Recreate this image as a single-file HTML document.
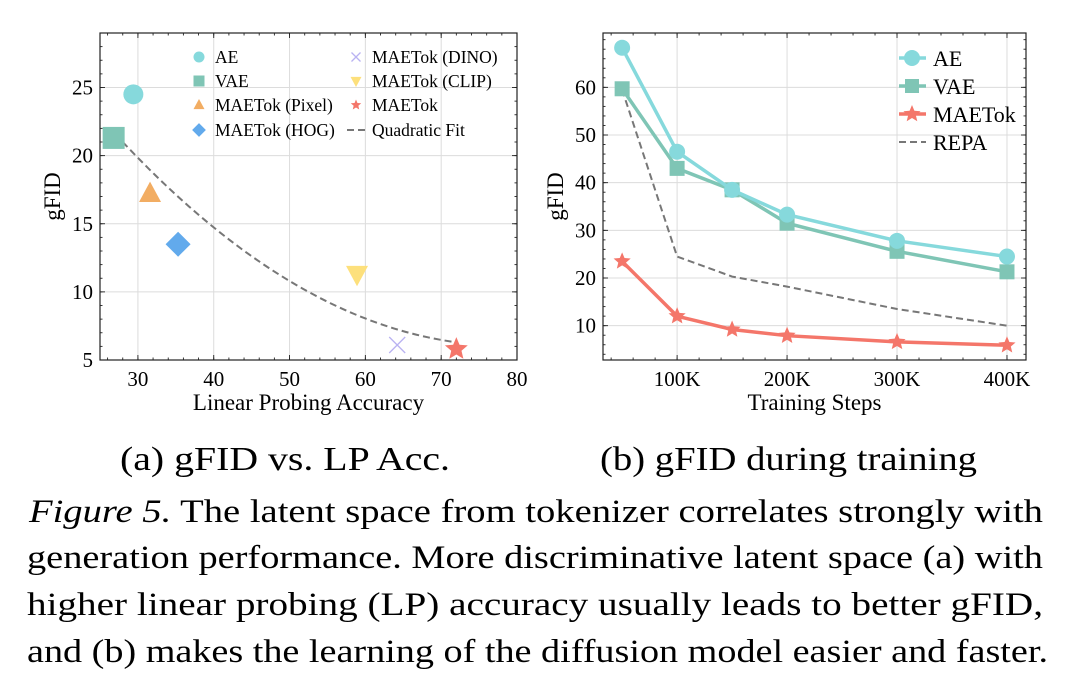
<!DOCTYPE html>
<html><head><meta charset="utf-8"><style>
html,body{margin:0;padding:0;background:#fff;}
svg{display:block;font-family:"Liberation Serif","DejaVu Serif",serif;}
</style></head><body>
<svg id="fig" width="1072" height="684" viewBox="0 0 1072 684">
<g id="left"></g>
<g id="right"></g>
<text x="120" y="470" font-size="34" textLength="330" lengthAdjust="spacingAndGlyphs">(a) gFID vs. LP Acc.</text>
<text x="600" y="470" font-size="34" textLength="377" lengthAdjust="spacingAndGlyphs">(b) gFID during training</text>
<g font-size="33">
<text x="29" y="522" textLength="1014" lengthAdjust="spacingAndGlyphs"><tspan font-style="italic">Figure 5.</tspan> The latent space from tokenizer correlates strongly with</text>
<text x="27" y="568" textLength="1016" lengthAdjust="spacingAndGlyphs">generation performance. More discriminative latent space (a) with</text>
<text x="27" y="615" textLength="1016" lengthAdjust="spacingAndGlyphs">higher linear probing (LP) accuracy usually leads to better gFID,</text>
<text x="27" y="662" textLength="1021" lengthAdjust="spacingAndGlyphs">and (b) makes the learning of the diffusion model easier and faster.</text>
</g>
</svg>
<script>
// ---- Chart A data ----
const aNames = ["AE","VAE","MAETok (Pixel)","MAETok (HOG)","MAETok (DINO)","MAETok (CLIP)","MAETok"];
const aAcc = [29.4, 26.8, 31.6, 35.3, 64.2, 58.9, 72.0];
const aFid = [24.5, 21.3, 17.2, 13.5, 6.1, 11.3, 5.8];
const aFitX = [27, 72];
const aFitCoef = [21.6, -0.4696, 0.005891]; // y = c0 + c1(x-27) + c2(x-27)(x-50)
const aXTicks = [30,40,50,60,70,80];
const aYTicks = [5,10,15,20,25];
// ---- Chart B data ----
const bSteps = [50,100,150,200,300,400];
const bAE = [68.3,46.5,38.5,33.3,27.8,24.5];
const bVAE = [59.7,43.0,38.5,31.5,25.6,21.3];
const bMAE = [23.5,12.0,9.2,7.9,6.6,5.9];
const bREPA = [59.5,24.5,20.3,18.2,13.5,10.0];
const bXTicks = [100,200,300,400];
const bXLabels = ["100K","200K","300K","400K"];
const bYTicks = [10,20,30,40,50,60];

const NS="http://www.w3.org/2000/svg";
function mk(parent,tag,attrs,text){const e=document.createElementNS(NS,tag);for(const k in attrs)e.setAttribute(k,attrs[k]);if(text!==undefined)e.textContent=text;parent.appendChild(e);return e;}
const C={AE:"#86d9dc",VAE:"#7fc5b5",PIX:"#f2ad63",HOG:"#62aaec",DINO:"#b9b2f2",CLIP:"#fde07c",MAE:"#f4766a"};

function marker(g,type,x,y,s,col){
  let e;
  if(type==="circle") e=mk(g,"circle",{cx:x,cy:y,r:s,fill:col});
  else if(type==="square") e=mk(g,"rect",{x:x-s,y:y-s,width:2*s,height:2*s,fill:col});
  else if(type==="tri") e=mk(g,"polygon",{points:`${x},${y-s*1.1} ${x+s},${y+s*0.75} ${x-s},${y+s*0.75}`,fill:col});
  else if(type==="tridown") e=mk(g,"polygon",{points:`${x},${y+s*1.1} ${x+s},${y-s*0.75} ${x-s},${y-s*0.75}`,fill:col});
  else if(type==="diamond") e=mk(g,"polygon",{points:`${x},${y-s*1.25} ${x+s*1.25},${y} ${x},${y+s*1.25} ${x-s*1.25},${y}`,fill:col});
  else if(type==="x") e=mk(g,"path",{d:`M${x-s},${y-s}L${x+s},${y+s}M${x-s},${y+s}L${x+s},${y-s}`,stroke:col,"stroke-width":1.3,fill:"none"});
  else if(type==="star"){let p=[];for(let i=0;i<10;i++){const r=i%2?s*0.45:s;const a=-Math.PI/2+i*Math.PI/5;p.push((x+r*Math.cos(a)).toFixed(2)+","+(y+r*Math.sin(a)).toFixed(2));}e=mk(g,"polygon",{points:p.join(" "),fill:col});}
  return e;
}

function axesFrame(g,L,T,R,B,xs,ys,xMinor,yMinor,xTicks,xLabels,yTicks,xTitle,yTitle){
  const grid=mk(g,"g",{stroke:"#dcdcdc","stroke-width":1});
  
  
  xTicks.forEach(v=>{const X=xs(v);if(X>L&&X<R)mk(grid,"line",{x1:X,x2:X,y1:T,y2:B});});
  yTicks.forEach(v=>{const Y=ys(v);if(Y>T&&Y<B)mk(grid,"line",{x1:L,x2:R,y1:Y,y2:Y});});
  mk(g,"rect",{x:L,y:T,width:R-L,height:B-T,fill:"none",stroke:"#222","stroke-width":1.2});
  const tk=mk(g,"g",{stroke:"#222","stroke-width":0.9});
  xMinor.forEach(v=>{const X=xs(v);if(X>=L&&X<=R){mk(tk,"line",{x1:X,x2:X,y1:B,y2:B-2.5});mk(tk,"line",{x1:X,x2:X,y1:T,y2:T+2.5});}});
  yMinor.forEach(v=>{const Y=ys(v);if(Y>=T&&Y<=B){mk(tk,"line",{x1:L,x2:L+2.5,y1:Y,y2:Y});mk(tk,"line",{x1:R,x2:R-2.5,y1:Y,y2:Y});}});
  xTicks.forEach(v=>{const X=xs(v);mk(tk,"line",{x1:X,x2:X,y1:B,y2:B-5});mk(tk,"line",{x1:X,x2:X,y1:T,y2:T+5});});
  yTicks.forEach(v=>{const Y=ys(v);mk(tk,"line",{x1:L,x2:L+5,y1:Y,y2:Y});mk(tk,"line",{x1:R,x2:R-5,y1:Y,y2:Y});});
  xTicks.forEach((v,i)=>{const t=mk(g,"text",{x:xs(v),y:B+26,"font-size":21,"text-anchor":"middle"},xLabels[i]);
    
    });
  yTicks.forEach(v=>{const t=mk(g,"text",{x:L-7,y:ys(v)+7,"font-size":21,"text-anchor":"end"},String(v));
    
    });
  const xt=mk(g,"text",{x:(L+R)/2,y:B+50,"font-size":23,"text-anchor":"middle"},xTitle);
  
  
  const yt=mk(g,"text",{x:0,y:0,"font-size":23,"text-anchor":"middle",transform:`translate(${L-40},${(T+B)/2}) rotate(-90)`},yTitle);
  
  
}

// ---- Chart A ----
(function(){
  const g=document.getElementById('left');
  const L=100,R=517,T=33,B=360, x0=25,x1=80,y0=5,y1=29;
  const xs=v=>L+(v-x0)/(x1-x0)*(R-L), ys=v=>B-(v-y0)/(y1-y0)*(B-T);
  const xMinor=[],yMinor=[];for(let v=26;v<=80;v+=2)xMinor.push(v);for(let v=5;v<=29;v++)yMinor.push(v);
  axesFrame(g,L,T,R,B,xs,ys,xMinor,yMinor,aXTicks,aXTicks.map(String),aYTicks,"Linear Probing Accuracy","gFID");
  let d="";for(let i=0;i<=60;i++){const x=aFitX[0]+(aFitX[1]-aFitX[0])*i/60;const y=aFitCoef[0]+aFitCoef[1]*(x-27)+aFitCoef[2]*(x-27)*(x-50);d+=(i?"L":"M")+xs(x).toFixed(2)+","+ys(y).toFixed(2);}
  const fit=mk(g,"path",{d:d,fill:"none",stroke:"#777","stroke-width":2,"stroke-dasharray":"7,4"});
  
  
  const types=["circle","square","tri","diamond","x","tridown","star"];
  const cols=[C.AE,C.VAE,C.PIX,C.HOG,C.DINO,C.CLIP,C.MAE];
  const sizes=[10,11,11,10,8,11,12];
  aNames.forEach((n,i)=>{const m=marker(g,types[i],xs(aAcc[i]),ys(aFid[i]),sizes[i],cols[i]);
    
    });
  const lg=mk(g,"g",{});
  
  
  const rows=[57,81,105,130];
  const order=[[0,1,2,3],[4,5,6,-1]];
  const colX=[199,356];
  order.forEach((col,ci)=>col.forEach((idx,ri)=>{
    const mx=colX[ci], my=rows[ri];
    if(idx<0){mk(lg,"line",{x1:mx-9,x2:mx+9,y1:my,y2:my,stroke:"#777","stroke-width":2,"stroke-dasharray":"7,4"});}
    else marker(lg,types[idx],mx,my,idx===4?4.5:5.5,cols[idx]);
    const t=mk(lg,"text",{x:mx+16,y:my+6,"font-size":17.5},idx<0?"Quadratic Fit":aNames[idx]);
    
    
  }));
})();

// ---- Chart B ----
(function(){
  const g=document.getElementById('right');
  const L=603,R=1026,T=33,B=360, x0=32.6,x1=417.3,y0=2.8,y1=71.4;
  const xs=v=>L+(v-x0)/(x1-x0)*(R-L), ys=v=>B-(v-y0)/(y1-y0)*(B-T);
  const xMinor=[],yMinor=[];for(let v=40;v<=417;v+=20)xMinor.push(v);for(let v=4;v<=71;v+=2)yMinor.push(v);
  axesFrame(g,L,T,R,B,xs,ys,xMinor,yMinor,bXTicks,bXLabels,bYTicks,"Training Steps","gFID");
  const series=[["repa",bREPA,"#777",null],["vae",bVAE,C.VAE,"square"],["ae",bAE,C.AE,"circle"],["maetok",bMAE,C.MAE,"star"]];
  series.forEach(([n,vals,col,mt])=>{
    const d=vals.map((v,i)=>(i?"L":"M")+xs(bSteps[i]).toFixed(2)+","+ys(v).toFixed(2)).join("");
    const attrs={d:d,fill:"none",stroke:col,"stroke-width":mt?3.5:2};
    if(!mt)attrs["stroke-dasharray"]="7,4";
    const p=mk(g,"path",attrs);
    
    
    if(mt)vals.forEach((v,i)=>{const m=marker(g,mt,xs(bSteps[i]),ys(v),mt==="star"?9:(mt==="square"?7.5:8),col);
      
      });
  });
  const lg=mk(g,"g",{});
  
  
  const ent=[["AE",C.AE,"circle",58],["VAE",C.VAE,"square",86],["MAETok",C.MAE,"star",114],["REPA","#777",null,142]];
  ent.forEach(([n,col,mt,y])=>{
    const a={x1:899,x2:926,y1:y,y2:y,stroke:col,"stroke-width":mt?3.5:2};if(!mt)a["stroke-dasharray"]="7,4";
    mk(lg,"line",a);
    if(mt)marker(lg,mt,912,y,mt==="star"?9:(mt==="square"?7:8),col);
    const t=mk(lg,"text",{x:933,y:y+8,"font-size":22},n);
    
    
  });
})();
</script>
</body></html>
